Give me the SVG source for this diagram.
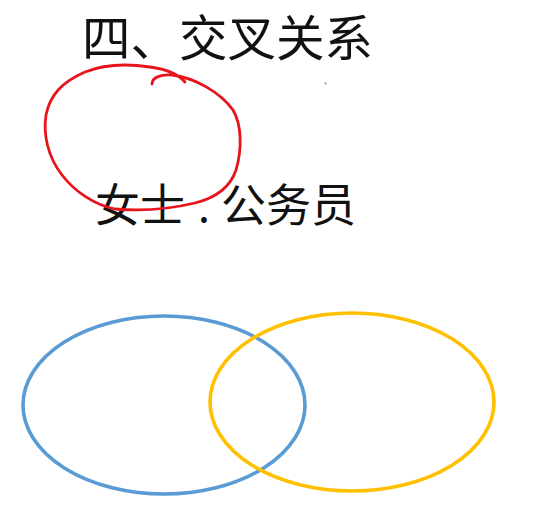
<svg xmlns="http://www.w3.org/2000/svg" width="553" height="519" viewBox="0 0 553 519">
<style>
.t{font-family:"Noto Sans CJK SC","Noto Sans",sans-serif;fill:#111;}
.ell{fill:none;stroke-width:3.6;}
</style>
<rect width="553" height="519" fill="#ffffff"/>
<g id="title"><text class="t" x="82" y="56" font-size="48.5">四、交叉关系</text></g>
<g id="label">
<text class="t" x="95" y="222" font-size="45">女士</text>
<text class="t" x="204" y="222" font-size="43" text-anchor="middle">.</text>
<text class="t" x="221" y="222" font-size="45">公务员</text>
</g>
<g id="red-circle"><path d="M152,84 C152,78 160,74 172,75 C195,78 220,92 233,110 C242,125 242,150 236,170 C230,188 215,198 195,203 C170,209 140,211 115,209 C95,205 75,192 62,175 C48,157 43,135 46,115 C50,95 62,82 85,72 C105,64 130,64 150,67 C165,69 178,74 185,82" fill="none" stroke="#e8141c" stroke-width="2.8" stroke-linecap="round" stroke-linejoin="round"/></g>
<rect x="324.5" y="82.5" width="2" height="2" fill="#c98a98"/>
<g id="blue-set"><ellipse class="ell" cx="164" cy="405" rx="141" ry="89" stroke="#5b9bd5"/></g>
<g id="yellow-set"><ellipse class="ell" cx="352" cy="402" rx="142" ry="89" stroke="#ffc000"/></g>
<g id="connectors"></g>
</svg>
